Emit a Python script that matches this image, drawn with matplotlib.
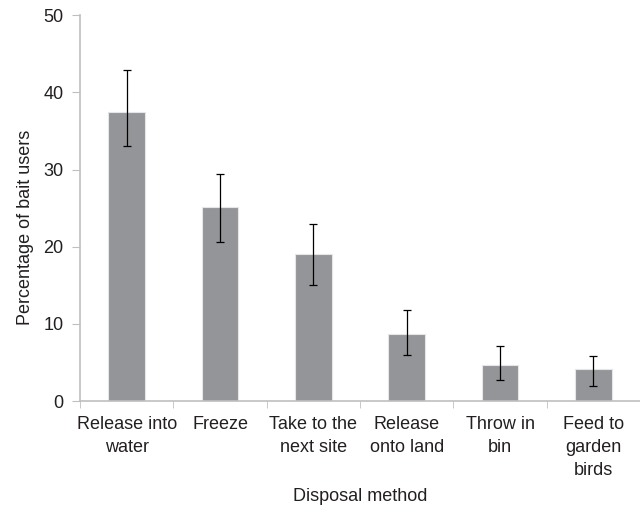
import matplotlib
matplotlib.use("Agg")
import matplotlib.pyplot as plt
import numpy as np

plt.rcParams['font.family'] = ['Liberation Sans', 'DejaVu Sans']

# data
methods = ["Release into\nwater", "Freeze", "Take to the\nnext site",
           "Release\nonto land", "Throw in\nbin", "Feed to\ngarden\nbirds"]
percent = [37.5, 25.2, 19.1, 8.7, 4.7, 4.2]
err_upper = [42.9, 29.4, 22.9, 11.8, 7.1, 5.9]
err_lower = [33.1, 20.6, 15.0, 6.0, 2.7, 1.9]

text_col = "#231f20"
spine_col = "#bfbfbf"
fs = 13

fig = plt.figure(figsize=(6.4, 5.09), dpi=100)
ax = fig.add_axes([0.125, 0.212, 0.875, 0.758])

x = np.arange(len(methods))
vals = np.array(percent)
yerr = [vals - np.array(err_lower), np.array(err_upper) - vals]

ax.bar(x, vals, width=0.39, color="#939598", edgecolor="#e6e6e6", linewidth=0.8, zorder=2)
ax.errorbar(x, vals, yerr=yerr, fmt='none', ecolor="black", elinewidth=0.9,
            capsize=3, capthick=0.9, zorder=3)

ax.set_xlim(-0.5, len(methods) - 0.5)
ax.set_ylim(0, 50)
ax.set_yticks(range(0, 51, 10))

ax.set_xticks(x)
ax.set_xticklabels(methods, fontsize=fs, color=text_col, linespacing=1.45)
ax.set_xticks(np.arange(-0.5, len(methods), 1.0), minor=True)
ax.tick_params(axis='x', which='major', length=0, pad=11)
ax.tick_params(axis='x', which='minor', length=5, color=spine_col, direction='out')
ax.tick_params(axis='y', length=6, color=spine_col, labelsize=fs, labelcolor=text_col, pad=6)

for s in ["top", "right"]:
    ax.spines[s].set_visible(False)
for s in ["left", "bottom"]:
    ax.spines[s].set_color(spine_col)
    ax.spines[s].set_linewidth(1.2)

ax.set_ylabel("Percentage of bait users", fontsize=fs, color=text_col)
ax.yaxis.set_label_coords(-0.083, 0.45)
ax.set_xlabel("Disposal method", fontsize=fs, color=text_col, va='center')
ax.xaxis.set_label_coords(0.5, -0.246)

fig.savefig("out.png", dpi=100)
